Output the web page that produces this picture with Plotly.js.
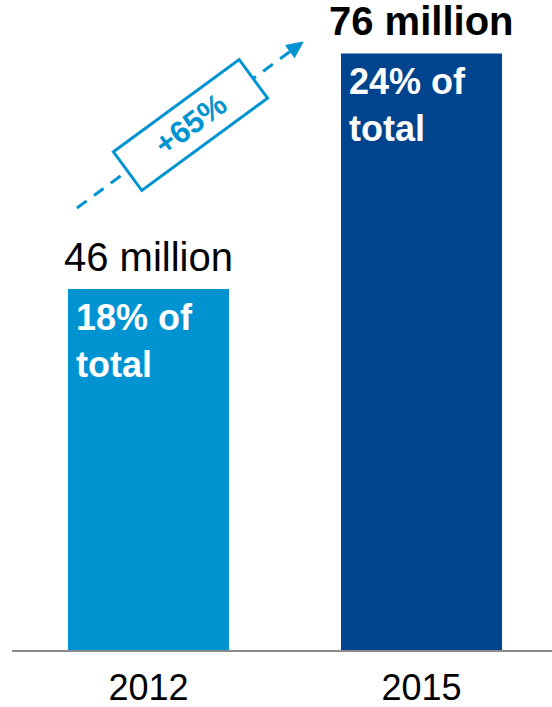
<!DOCTYPE html>
<html>
<head>
<meta charset="utf-8">
<script src="https://cdn.plot.ly/plotly-3.0.1.min.js"></script>
<style>html,body{margin:0;padding:0;background:#fff;}#chart{width:552px;height:707px;}</style>
</head>
<body>
<div id="chart"></div>
<script>
// ---- data ----
const years = ['2012', '2015'];
const users = [46, 76];                       // millions
const valueLabels = ['46 million', '76 million'];
const shareLabels = ['18% of<br>total', '24% of<br>total'];
const growthLabel = '+65%';

// ---- styles ----
const FONT = 'Liberation Sans, Arial, Helvetica, sans-serif';
const barColors = ['#0093d2', '#00448e'];
const accent = '#0093d2';

const W = 552, H = 707;
const mL = 12, mR = 0, mT = 0, mB = 57;
const plotW = W - mL - mR, plotH = H - mT - mB;
const yMax = 82.8;

// helpers to convert pixel positions to paper coords (decorations only)
const px = x => (x - mL) / plotW;
const py = y => (H - mB - y) / plotH;

const annotations = [];
years.forEach((yr, i) => {
  // value label above bar
  annotations.push({
    x: i, y: users[i], xref: 'x', yref: 'y',
    text: valueLabels[i], showarrow: false,
    xanchor: 'center', yanchor: 'bottom', yshift: 8,
    font: {family: FONT, size: 40, color: '#000', weight: i === 1 ? 'bold' : 'normal'}
  });
  // share label inside bar
  annotations.push({
    x: i - 0.295, y: users[i], xref: 'x', yref: 'y',
    text: shareLabels[i], showarrow: false, align: 'left',
    xanchor: 'left', yanchor: 'top', xshift: 6, yshift: -6,
    font: {family: FONT, size: 36, color: '#fff', weight: 'bold'}
  });
});

// growth arrow geometry (pixels)
const start = [77, 208], tip = [303, 42];
const dx = tip[0] - start[0], dy = tip[1] - start[1];
const L = Math.hypot(dx, dy);
const u = [dx / L, dy / L], n = [-u[1], u[0]];
const headLen = 16, headHalf = 7.5;
const base = [tip[0] - headLen * u[0], tip[1] - headLen * u[1]];
const c = [190.5, 125], hl = 78, hw = 24;
const corner = (a, b) => [c[0] + a * hl * u[0] + b * hw * n[0], c[1] + a * hl * u[1] + b * hw * n[1]];
const pt = p => px(p[0]).toFixed(5) + ',' + py(p[1]).toFixed(5);
const boxPts = [corner(-1, -1), corner(1, -1), corner(1, 1), corner(-1, 1)];
const headPts = [tip, [base[0] + headHalf * n[0], base[1] + headHalf * n[1]], [base[0] - headHalf * n[0], base[1] - headHalf * n[1]]];
const angle = Math.atan2(dy, dx) * 180 / Math.PI;

const shapes = [
  {type: 'line', xref: 'paper', yref: 'paper', x0: px(start[0]), y0: py(start[1]), x1: px(base[0]), y1: py(base[1]),
   line: {color: accent, width: 3, dash: '12px,9px'}},
  {type: 'path', xref: 'paper', yref: 'paper', path: 'M' + headPts.map(pt).join(' L') + ' Z',
   fillcolor: accent, line: {color: accent, width: 1}},
  {type: 'path', xref: 'paper', yref: 'paper', path: 'M' + boxPts.map(pt).join(' L') + ' Z',
   fillcolor: '#fff', line: {color: accent, width: 3}}
];
annotations.push({
  x: px(c[0]), y: py(c[1]), xref: 'paper', yref: 'paper',
  text: growthLabel, showarrow: false, textangle: angle,
  xanchor: 'center', yanchor: 'middle',
  font: {family: FONT, size: 31, color: accent, weight: 'bold'}
});

const data = [{
  type: 'bar', x: years, y: users,
  marker: {color: barColors, line: {width: 0}},
  hoverinfo: 'skip'
}];

const layout = {
  width: W, height: H,
  margin: {l: mL, r: mR, t: mT, b: mB, pad: 0},
  paper_bgcolor: '#fff', plot_bgcolor: '#fff',
  showlegend: false, bargap: 0.41,
  xaxis: {
    type: 'category', range: [-0.5, 1.478], fixedrange: true,
    showline: true, linecolor: '#8a8a8a', linewidth: 2,
    showgrid: false, zeroline: false, ticks: '',
    ticklabelstandoff: 5,
    tickfont: {family: FONT, size: 36, color: '#000'}
  },
  yaxis: {range: [0, yMax], visible: false, showgrid: false, zeroline: false, fixedrange: true},
  annotations: annotations,
  shapes: shapes
};

Plotly.newPlot('chart', data, layout, {staticPlot: true, displayModeBar: false});
</script>
</body>
</html>
